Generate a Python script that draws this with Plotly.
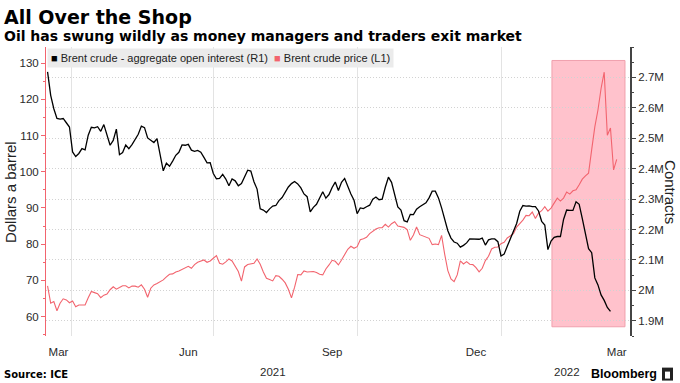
import plotly.graph_objects as go
import pandas as pd

# ---------------- data ----------------
# Brent crude price, USD/bbl, one reading every 2 calendar days from start date
price_start = "2021-03-17"
price_values = [
    68.47, 63.69, 64.15, 61.6, 63.69, 64.9, 64.6, 63.8, 64.3, 62.7,
    63.2, 63.1, 63.2, 65.2, 66.9, 66.6, 66.3, 65.2, 65.9, 66.2,
    67.4, 68.2, 67.55, 68.0, 68.5, 68.5, 67.9, 68.4, 68.4, 68.1,
    68.74, 67.55, 65.34, 67.82, 68.74, 69.1, 69.57, 70.12, 70.95, 71.68,
    71.77, 72.32, 72.6, 72.97, 73.33, 73.88, 73.33, 74.35, 74.99, 75.26,
    75.63, 74.99, 75.36, 76.09, 76.82, 74.71, 74.44, 75.08, 75.91, 75.36,
    73.98, 72.42, 69.8, 73.7, 74.35, 74.44, 74.71, 75.91, 74.44, 72.32,
    70.58, 70.21, 69.84, 71.31, 71.13, 70.3, 69.29, 67.55, 65.16, 68.1,
    71.59, 71.5, 72.6, 72.32, 72.32, 72.42, 72.14, 71.68, 71.5, 73.15,
    74.25, 75.54, 75.26, 74.25, 75.63, 77.28, 78.57, 79.4, 78.85, 79.3,
    81.23, 81.51, 81.88, 82.89, 83.53, 84.17, 84.54, 84.54, 85.46, 84.72,
    85.64, 86.19, 85.0, 84.72, 84.63, 83.99, 81.05, 82.52, 84.72, 82.61,
    82.34, 81.97, 81.6, 79.86, 80.04, 79.86, 82.43, 77.19, 72.69, 70.39,
    69.66, 71.5, 75.36, 74.53, 75.17, 74.44, 74.35, 73.52, 72.32, 73.33,
    75.45, 76.64, 78.66, 79.12, 79.21, 80.13, 80.5, 81.69, 82.24, 82.89,
    84.72, 85.64, 86.65, 87.94, 87.85, 88.86, 87.11, 88.58, 89.23, 90.33,
    89.13, 89.96, 91.43, 92.72, 91.89, 92.72, 94.37, 93.82, 94.74, 95.01,
    96.39, 97.95, 98.87, 99.6, 106.12, 112.37, 117.06, 123.0, 127.5, 110.08,
    112.1, 100.5, 103.4,
]

# Brent crude aggregate open interest, millions of contracts, every 2 days
oi_start = "2021-03-17"
oi_values = [
    2.718, 2.641, 2.597, 2.565, 2.563, 2.565, 2.551, 2.537, 2.455, 2.440,
    2.450, 2.466, 2.462, 2.510, 2.536, 2.534, 2.538, 2.523, 2.545, 2.510,
    2.477, 2.493, 2.530, 2.446, 2.453, 2.478, 2.466, 2.479, 2.496, 2.513,
    2.540, 2.535, 2.501, 2.492, 2.486, 2.499, 2.450, 2.393, 2.418, 2.408,
    2.425, 2.444, 2.454, 2.478, 2.477, 2.480, 2.461, 2.457, 2.460, 2.454,
    2.437, 2.419, 2.420, 2.384, 2.367, 2.368, 2.381, 2.366, 2.344, 2.366,
    2.360, 2.344, 2.351, 2.372, 2.395, 2.392, 2.357, 2.333, 2.268, 2.264,
    2.256, 2.268, 2.277, 2.279, 2.295, 2.305, 2.323, 2.340, 2.351, 2.358,
    2.350, 2.337, 2.317, 2.308, 2.258, 2.273, 2.283, 2.305, 2.324, 2.303,
    2.315, 2.338, 2.356, 2.328, 2.355, 2.368, 2.339, 2.317, 2.296, 2.252,
    2.271, 2.269, 2.275, 2.280, 2.300, 2.307, 2.298, 2.300, 2.339, 2.372,
    2.355, 2.312, 2.274, 2.264, 2.229, 2.225, 2.250, 2.249, 2.267, 2.275,
    2.283, 2.288, 2.304, 2.326, 2.326, 2.304, 2.271, 2.231, 2.196, 2.172,
    2.159, 2.155, 2.142, 2.148, 2.156, 2.169, 2.169, 2.169, 2.168, 2.172,
    2.149, 2.166, 2.169, 2.169, 2.160, 2.113, 2.119, 2.145, 2.171, 2.194,
    2.220, 2.260, 2.279, 2.277, 2.278, 2.275, 2.275, 2.261, 2.227, 2.215,
    2.134, 2.162, 2.174, 2.177, 2.177, 2.233, 2.264, 2.263, 2.263, 2.291,
    2.283, 2.236, 2.182, 2.137, 2.124, 2.041, 2.018, 1.985, 1.967, 1.944,
    1.931,
]

month_tick_dates = ["2021-03-24", "2021-06-15", "2021-09-15", "2021-12-16", "2022-03-16"]
month_tick_labels = ["Mar", "Jun", "Sep", "Dec", "Mar"]
quarter_grid_dates = ["2021-04-01", "2021-07-01", "2021-10-01", "2022-01-01"]
year_label_dates = ["2021-08-08", "2022-02-12"]
year_labels = ["2021", "2022"]
price_ticks = [60, 70, 80, 90, 100, 110, 120, 130]
oi_ticks = [1.9, 2.0, 2.1, 2.2, 2.3, 2.4, 2.5, 2.6, 2.7]
oi_tick_labels = ["1.9M", "2M", "2.1M", "2.2M", "2.3M", "2.4M", "2.5M", "2.6M", "2.7M"]
highlight_period = ["2022-02-02 14:00", "2022-03-21 07:00"]

price_dates = pd.date_range(price_start, periods=len(price_values), freq="2D")
oi_dates = pd.date_range(oi_start, periods=len(oi_values), freq="2D")

# ---------------- styling ----------------
RED = "#f2646e"
BLACK = "#000000"
TICK_FONT = dict(family="Liberation Sans, Arial, sans-serif", size=11.5, color="#2a2a2a")

L, R, T, B = 46, 50, 46.5, 46.7
W, H = 680, 383
PH = H - T - B
PW = W - L - R


def px_x(px):
    return (px - L) / PW


def px_y(py):
    return (H - B - py) / PH


fig = go.Figure()

fig.add_trace(go.Scatter(
    x=price_dates, y=price_values, mode="lines", yaxis="y",
    line=dict(color=RED, width=1.1), name="Brent crude price (L1)", showlegend=False,
))
fig.add_trace(go.Scatter(
    x=oi_dates, y=oi_values, mode="lines", yaxis="y2",
    line=dict(color=BLACK, width=1.3), name="Brent crude - aggregate open interest (R1)",
    showlegend=False,
))

fig.update_layout(
    width=W, height=H,
    margin=dict(l=L, r=R, t=T, b=B, pad=0),
    paper_bgcolor="white", plot_bgcolor="white",
    showlegend=False,
    xaxis=dict(
        type="date",
        range=["2021-03-16", "2022-03-24 12:00"],
        tickmode="array", tickvals=month_tick_dates, ticktext=month_tick_labels,
        ticks="outside", ticklen=5, tickcolor="rgba(0,0,0,0)",
        tickfont=TICK_FONT, showgrid=False, showline=False, zeroline=False,
        minor=dict(tickmode="array", tickvals=quarter_grid_dates, showgrid=True,
                   gridcolor="#e3e3e3", gridwidth=1, ticks=""),
    ),
    yaxis=dict(
        range=[54.62, 134.46], side="left",
        tickmode="array", tickvals=price_ticks,
        ticks="outside", ticklen=4, tickcolor=RED, tickwidth=1,
        showline=True, linecolor=RED, linewidth=1,
        showgrid=False, zeroline=False, tickfont=TICK_FONT,
        minor=dict(tickmode="linear", tick0=55, dtick=5, ticks="outside",
                   ticklen=2, tickcolor=RED, showgrid=False),
    ),
    yaxis2=dict(
        range=[1.85, 2.8], side="right", overlaying="y",
        tickmode="array", tickvals=oi_ticks, ticktext=oi_tick_labels,
        ticks="outside", ticklen=4, tickcolor="#444444", tickwidth=1,
        showline=True, linecolor="#444444", linewidth=2,
        showgrid=True, gridcolor="#d2d2d2", griddash="1px,2px", gridwidth=1,
        zeroline=False, tickfont=TICK_FONT,
        minor=dict(tickmode="linear", tick0=1.85, dtick=0.05, ticks="outside",
                   ticklen=2, tickcolor="#444444", showgrid=False),
    ),
)

# highlighted period
fig.add_shape(type="rect", xref="x", yref="y",
              x0=highlight_period[0], x1=highlight_period[1], y0=57.17, y1=130.74,
              fillcolor="#ffc2cc", line=dict(color="#f0a0ad", width=1), layer="below")

ann = []
ann.append(dict(text="<b>All Over the Shop</b>", xref="paper", yref="paper",
                x=px_x(2), y=px_y(3), xanchor="left", yanchor="top", showarrow=False,
                font=dict(family="DejaVu Sans", size=19, color="#000")))
ann.append(dict(text="<b>Oil has swung wildly as money managers and traders exit market</b>",
                xref="paper", yref="paper", x=px_x(2), y=px_y(25), xanchor="left",
                yanchor="top", showarrow=False,
                font=dict(family="DejaVu Sans", size=14, color="#000")))
ann.append(dict(
    text=(f'<span style="color:{BLACK}">■</span> Brent crude - aggregate open interest (R1)'
          f'  <span style="color:{RED}">■</span> Brent crude price (L1)'),
    xref="paper", yref="paper", x=px_x(47), y=px_y(48), xanchor="left", yanchor="top",
    showarrow=False, bgcolor="#ebebeb", borderpad=3,
    font=dict(family="Liberation Sans, Arial, sans-serif", size=11, color="#222")))
ann.append(dict(text="Dollars a barrel", xref="paper", yref="paper", x=px_x(10), y=px_y(192),
                xanchor="center", yanchor="middle", textangle=-90, showarrow=False,
                font=dict(family="Liberation Sans, Arial, sans-serif", size=15, color="#222")))
ann.append(dict(text="Contracts", xref="paper", yref="paper", x=px_x(671), y=px_y(192),
                xanchor="center", yanchor="middle", textangle=90, showarrow=False,
                font=dict(family="Liberation Sans, Arial, sans-serif", size=15, color="#222")))
for d, t in zip(year_label_dates, year_labels):
    ann.append(dict(text=t, xref="x", yref="paper", x=d, y=px_y(372),
                    xanchor="center", yanchor="middle", showarrow=False, font=TICK_FONT))
ann.append(dict(text="<b>Source: ICE</b>", xref="paper", yref="paper", x=px_x(2), y=px_y(375),
                xanchor="left", yanchor="middle", showarrow=False,
                font=dict(family="DejaVu Sans", size=10, color="#000")))
ann.append(dict(text="<b>Bloomberg</b>", xref="paper", yref="paper", x=px_x(659), y=px_y(374),
                xanchor="right", yanchor="middle", showarrow=False,
                font=dict(family="Liberation Sans, Arial, sans-serif", size=12.5, color="#000")))
fig.update_layout(annotations=ann)

# Bloomberg mark
fig.add_shape(type="rect", xref="paper", yref="paper",
              x0=px_x(662), x1=px_x(673), y0=px_y(381), y1=px_y(368),
              fillcolor="#222222", line=dict(width=0))
fig.add_shape(type="rect", xref="paper", yref="paper",
              x0=px_x(665), x1=px_x(670), y0=px_y(379), y1=px_y(372),
              fillcolor="#ffffff", line=dict(width=0))

fig.write_html("out.html", config={"displayModeBar": False},
               post_script="document.body.style.margin='0';")
